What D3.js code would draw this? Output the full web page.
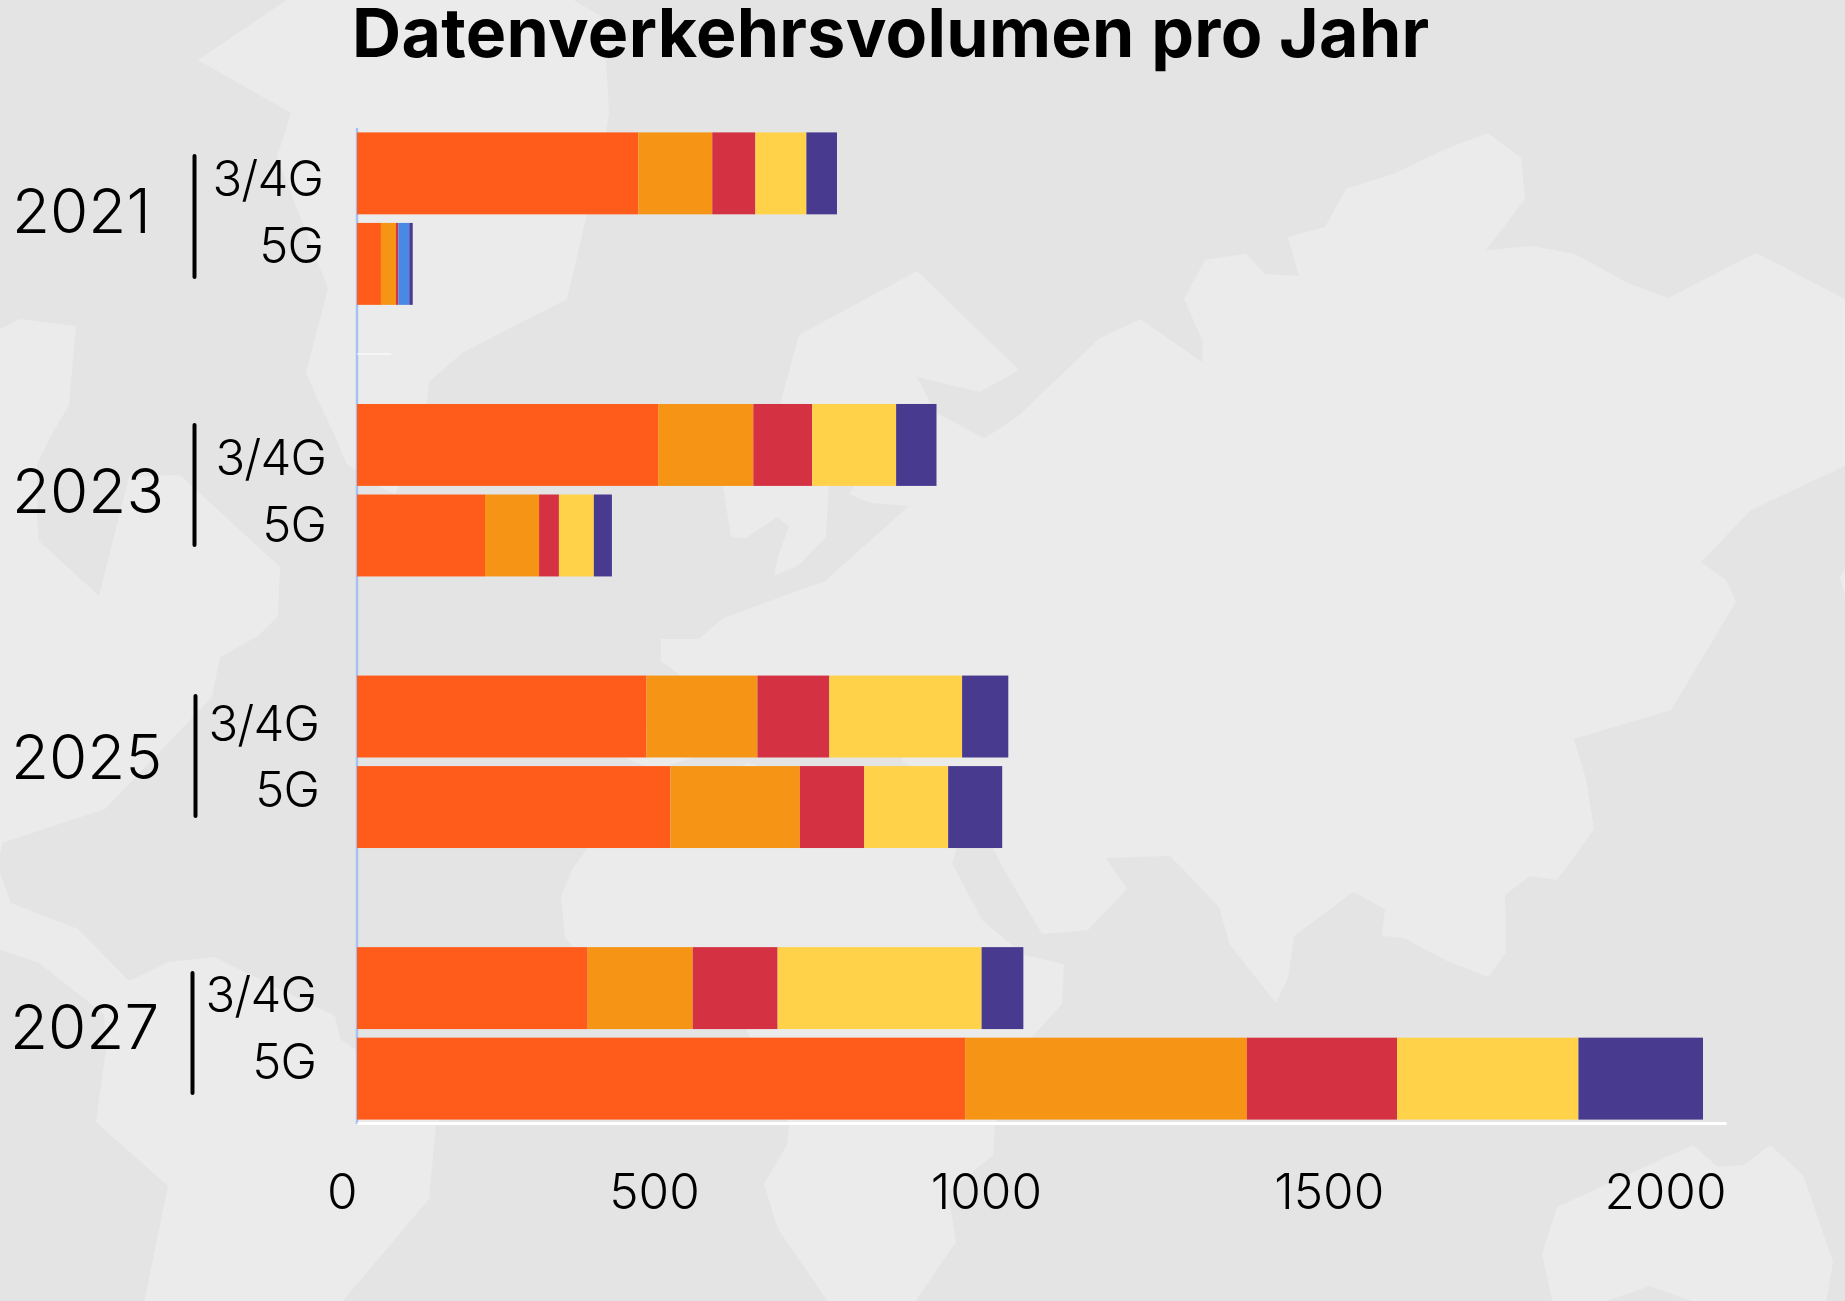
<!DOCTYPE html>
<html lang="de">
<head>
<meta charset="utf-8">
<title>Datenverkehrsvolumen pro Jahr</title>
<script src="https://cdn.jsdelivr.net/npm/d3@7"></script>
<style>
  html, body { margin: 0; padding: 0; background: #e4e4e4; }
  svg { display: block; }
  text { font-family: "Inter", "Noto Sans", sans-serif; fill: #000; }
</style>
</head>
<body>
<div id="chart"></div>
<script>
// rows from top to bottom, the "gap" rows just keep the space between the years
const rows = ["2021 3/4G", "2021 5G", "gap1", "2023 3/4G", "2023 5G", "gap2", "2025 3/4G", "2025 5G", "gap3", "2027 3/4G", "2027 5G"];
const barRows = ["2021 3/4G", "2021 5G", "2023 3/4G", "2023 5G", "2025 3/4G", "2025 5G", "2027 3/4G", "2027 5G"];
const years = ["2021", "2023", "2025", "2027"];
const xTicks = [0, 500, 1000, 1500, 2000];

// series values, same order as barRows
const seriesOrangeRed = [411, 35, 440, 187, 423, 458, 337, 888.5];
const seriesOrange = [108, 22, 139, 79, 162, 189, 153.5, 411.5];
const seriesRed = [63, 3.4, 86, 29, 105, 94, 124, 219.4];
const seriesYellow = [74.5, 0, 122.6, 51, 194, 122.6, 298, 265];
const seriesBlue = [0, 16, 0, 0, 0, 0, 0, 0];
const seriesNavy = [44.7, 5, 59, 26.4, 67.5, 79, 61, 182];

const seriesKeys = ["orangeRed", "orange", "red", "yellow", "blue", "navy"];
const seriesColors = ["#ff5c1b", "#f59415", "#d43242", "#ffd24a", "#4b88e6", "#473a8f"];

// hand placed labels left of the bars, they are not aligned between the years
const yearLabelPos = [
  { x: 12, y: 233, sepX: 194.5, sepTop: 156, sepBottom: 277, tagX: 323, tag1: 196, tag2: 263 },
  { x: 12, y: 513, sepX: 194.5, sepTop: 425, sepBottom: 545, tagX: 326, tag1: 475, tag2: 542 },
  { x: 11, y: 779, sepX: 195.5, sepTop: 696, sepBottom: 816, tagX: 319, tag1: 741, tag2: 807 },
  { x: 10, y: 1049, sepX: 192.5, sepTop: 973, sepBottom: 1093, tagX: 316, tag1: 1012, tag2: 1079 }
];

// the grey world map behind the chart
const mapShapes = [
  [[294,-5],[198,60],[291,113],[277,157],[328,288],[306,373],[318,400],[334,434],[347,464],[378,486],[395,494],[427,420],[427,404],[429,382],[462,353],[567,299],[587,214],[600,170],[609,113],[604,18],[565,-5]],
  [[-2,330],[20,319],[76,326],[69,405],[52,434],[37,464],[37,517],[39,541],[99,596],[129,477],[180,475],[280,567],[278,616],[258,636],[220,657],[212,697],[105,809],[2,843],[-2,868]],
  [[-2,868],[11,903],[78,929],[129,981],[169,962],[214,957],[335,1016],[340,1039],[356,1050],[450,1110],[436,1124],[429,1199],[341,1303],[144,1303],[168,1186],[96,1122],[106,1050],[104,1014],[39,963],[-2,949]],
  [[1847,300],[1756,253],[1668,298],[1628,283],[1575,254],[1532,246],[1486,250],[1525,199],[1521,158],[1488,133],[1448,148],[1393,174],[1346,189],[1325,227],[1288,237],[1299,276],[1265,274],[1246,254],[1230,256],[1205,260],[1184,299],[1203,342],[1202,362],[1140,319],[1100,338],[1017,417],[991,434],[984,438],[976,434],[937,413],[931,405],[917,377],[980,392],[1019,370],[917,271],[799,335],[780,404],[723,486],[731,537],[746,538],[777,517],[789,527],[778,556],[774,576],[799,565],[826,537],[829,486],[854,486],[849,494],[871,503],[909,506],[825,581],[723,618],[699,639],[661,639],[661,661],[680,675],[624,757],[644,766],[668,766],[693,757],[720,720],[880,720],[901,757],[903,762],[911,766],[975,790],[993,848],[1003,868],[1042,934],[1088,930],[1127,889],[1112,867],[1106,858],[1170,856],[1182,868],[1219,907],[1230,945],[1276,1003],[1288,978],[1294,936],[1353,892],[1385,909],[1382,936],[1404,938],[1447,961],[1488,977],[1506,953],[1505,895],[1530,876],[1557,880],[1566,868],[1594,829],[1586,779],[1574,739],[1671,710],[1736,602],[1726,580],[1701,562],[1751,510],[1847,465]],
  [[588,848],[573,868],[561,897],[565,937],[573,947],[650,1000],[746,1029],[750,1037],[789,1124],[787,1145],[764,1184],[778,1229],[829,1303],[914,1303],[956,1242],[948,1192],[993,1155],[995,1124],[1032,1037],[1062,1004],[1064,964],[1024,955],[982,920],[954,867],[952,864],[957,848],[965,790],[900,772],[758,766],[748,763],[742,766],[610,780]],
  [[1542,1254],[1557,1207],[1693,1145],[1718,1167],[1744,1165],[1770,1145],[1803,1175],[1833,1262],[1826,1303],[1697,1303],[1650,1286],[1600,1303],[1553,1303]],
  [[1847,567],[1840,577],[1847,604]]
];

function createChart() {
  const width = 1845;
  const height = 1301;

  const svg = d3.select("#chart")
    .append("svg")
    .attr("width", width)
    .attr("height", height);

  svg.append("rect")
    .attr("width", width)
    .attr("height", height)
    .attr("fill", "#e4e4e4");

  svg.append("g")
    .selectAll("path")
    .data(mapShapes)
    .enter().append("path")
    .attr("d", function(d) { return d3.line()(d) + "Z"; })
    .attr("fill", "#ebebeb");

  const x = d3.scaleLinear()
    .domain([0, 2000])
    .range([357, 1726]);

  const y = d3.scaleBand()
    .domain(rows)
    .range([132.4, 1119.6])
    .paddingInner(0.095);

  // vertical line of the value origin
  svg.append("line")
    .attr("x1", x(0))
    .attr("x2", x(0))
    .attr("y1", 128)
    .attr("y2", 1124)
    .attr("stroke", "#a3c2f2")
    .attr("stroke-width", 2.4);

  // stray thin white line in the first gap
  svg.append("line")
    .attr("x1", x(0))
    .attr("x2", x(50))
    .attr("y1", 354)
    .attr("y2", 354)
    .attr("stroke", "#fff")
    .attr("stroke-width", 1);

  const table = barRows.map(function(row, i) {
    return {
      row: row,
      orangeRed: seriesOrangeRed[i],
      orange: seriesOrange[i],
      red: seriesRed[i],
      yellow: seriesYellow[i],
      blue: seriesBlue[i],
      navy: seriesNavy[i]
    };
  });

  const stacked = d3.stack().keys(seriesKeys)(table);

  const color = d3.scaleOrdinal()
    .domain(seriesKeys)
    .range(seriesColors);

  svg.append("g")
    .selectAll("g")
    .data(stacked)
    .enter().append("g")
    .attr("fill", function(d) { return color(d.key); })
    .selectAll("rect")
    .data(function(d) { return d; })
    .enter().append("rect")
    .attr("x", function(d) { return x(d[0]); })
    .attr("y", function(d) { return y(d.data.row); })
    .attr("width", function(d) { return x(d[1]) - x(d[0]); })
    .attr("height", y.bandwidth());

  // x axis, labels end at the tick instead of being centered
  const xAxis = svg.append("g")
    .attr("transform", "translate(0,1123)")
    .call(d3.axisBottom(x).tickValues(xTicks).tickSize(0).tickFormat(d3.format("d")));

  xAxis.select(".domain")
    .attr("stroke", "#fff")
    .attr("stroke-width", 3);

  xAxis.selectAll(".tick text")
    .attr("text-anchor", "end")
    .attr("dx", 0)
    .attr("y", 86)
    .attr("dy", 0)
    .style("font-family", "Inter")
    .style("font-size", "49.5px")
    .style("font-weight", 300);

  // year labels, separators and the 3/4G / 5G tags
  const groups = svg.append("g")
    .selectAll("g")
    .data(years)
    .enter().append("g");

  groups.append("text")
    .attr("x", function(d, i) { return yearLabelPos[i].x; })
    .attr("y", function(d, i) { return yearLabelPos[i].y; })
    .style("font-size", "62px")
    .style("font-weight", 300)
    .text(function(d) { return d; });

  groups.append("line")
    .attr("x1", function(d, i) { return yearLabelPos[i].sepX; })
    .attr("x2", function(d, i) { return yearLabelPos[i].sepX; })
    .attr("y1", function(d, i) { return yearLabelPos[i].sepTop; })
    .attr("y2", function(d, i) { return yearLabelPos[i].sepBottom; })
    .attr("stroke", "#000")
    .attr("stroke-width", 4)
    .attr("stroke-linecap", "round");

  groups.append("text")
    .attr("x", function(d, i) { return yearLabelPos[i].tagX; })
    .attr("y", function(d, i) { return yearLabelPos[i].tag1; })
    .attr("text-anchor", "end")
    .style("font-size", "49px")
    .style("font-weight", 300)
    .style("letter-spacing", "-0.9px")
    .text("3/4G");

  groups.append("text")
    .attr("x", function(d, i) { return yearLabelPos[i].tagX; })
    .attr("y", function(d, i) { return yearLabelPos[i].tag2; })
    .attr("text-anchor", "end")
    .style("font-size", "49px")
    .style("font-weight", 300)
    .style("letter-spacing", "-0.9px")
    .text("5G");

  svg.append("text")
    .attr("x", 352)
    .attr("y", 57)
    .style("font-size", "68px")
    .style("font-weight", 700)
    .style("letter-spacing", "0.3px")
    .text("Datenverkehrsvolumen pro Jahr");
}

document.addEventListener("DOMContentLoaded", createChart);
</script>
</body>
</html>
